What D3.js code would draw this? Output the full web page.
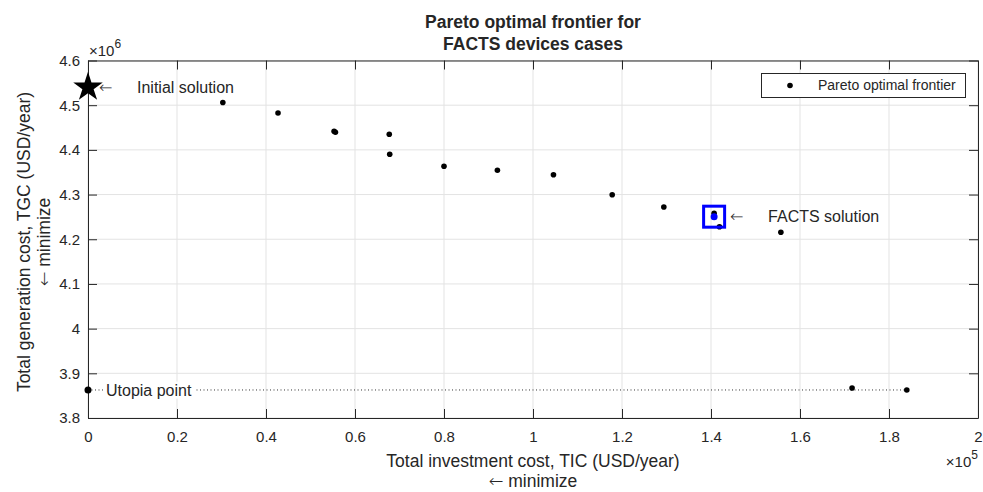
<!DOCTYPE html>
<html>
<head>
<meta charset="utf-8">
<script src="https://cdn.jsdelivr.net/npm/d3@7"></script>
<style>
	body { margin: 0; background: #fff; }
	text { font-family: "Liberation Sans", Arial, Helvetica, sans-serif; fill: #262626; }
	.arrow { font-family: "DejaVu Sans", sans-serif; font-weight: 200; }
</style>
</head>
<body>
<div id="pareto"></div>
<script>
// pareto frontier figure

// data (TIC in 1e5 USD/year, TGC in 1e6 USD/year)
const ticValues = [0.303, 0.427, 0.553, 0.556, 0.677, 0.678, 0.800, 0.920, 1.046, 1.178, 1.294, 1.407, 1.419, 1.557, 1.717, 1.840];
const tgcValues = [4.506, 4.4825, 4.4416, 4.4393, 4.4349, 4.3901, 4.3633, 4.3543, 4.3445, 4.2997, 4.2722, 4.2580, 4.2281, 4.2156, 3.8671, 3.8627];
const initialSolution = [0, 4.540];
const factsSolution = [1.407, 4.2505];
const utopiaPoint = [0, 3.8627];
const xTicks = [0, 0.2, 0.4, 0.6, 0.8, 1, 1.2, 1.4, 1.6, 1.8, 2];
const yTicks = [3.8, 3.9, 4, 4.1, 4.2, 4.3, 4.4, 4.5, 4.6];

const points = ticValues.map((v, i) => ({tic: v, tgc: tgcValues[i]}));

const w = 983, h = 492;
const margin = {top: 60.5, right: 5, bottom: 74, left: 88};
const axisColor = "#262626";
const gridColor = "#e3e3e3";

const x = d3.scaleLinear().domain([0, 2]).range([margin.left, w - margin.right]);
const y = d3.scaleLinear().domain([3.8, 4.6]).range([h - margin.bottom, margin.top]);

const svg = d3.select("#pareto")
	.append("svg")
	.attr("width", w)
	.attr("height", h);

// grid
svg.append("g")
	.selectAll("line")
	.data(xTicks)
	.join("line")
		.attr("x1", d => x(d)).attr("x2", d => x(d))
		.attr("y1", y(3.8)).attr("y2", y(4.6))
		.attr("stroke", gridColor);

svg.append("g")
	.selectAll("line")
	.data(yTicks)
	.join("line")
		.attr("x1", x(0)).attr("x2", x(2))
		.attr("y1", d => y(d)).attr("y2", d => y(d))
		.attr("stroke", gridColor);

// axes, ticks inside on all four sides
const tickStyle = g => {
	g.select(".domain").attr("stroke", axisColor);
	g.selectAll(".tick line").attr("stroke", axisColor);
	g.selectAll(".tick text")
		.style("font-family", "Liberation Sans, Arial, sans-serif")
		.style("font-size", "15px")
		.attr("fill", axisColor);
};

svg.append("g")
	.attr("transform", `translate(0,${y(3.8)})`)
	.call(d3.axisBottom(x).tickValues(xTicks).tickFormat(d3.format("~g")).tickSizeInner(-9).tickSizeOuter(0).tickPadding(13))
	.call(tickStyle);

svg.append("g")
	.attr("transform", `translate(0,${y(4.6)})`)
	.call(d3.axisTop(x).tickValues(xTicks).tickFormat("").tickSizeInner(-9).tickSizeOuter(0))
	.call(tickStyle);

svg.append("g")
	.attr("transform", `translate(${x(0)},0)`)
	.call(d3.axisLeft(y).tickValues(yTicks).tickFormat(d3.format("~g")).tickSizeInner(-9).tickSizeOuter(0).tickPadding(8))
	.call(tickStyle);

svg.append("g")
	.attr("transform", `translate(${x(2)},0)`)
	.call(d3.axisRight(y).tickValues(yTicks).tickFormat("").tickSizeInner(-9).tickSizeOuter(0))
	.call(tickStyle);

// exponent labels
const yExp = svg.append("text")
	.attr("x", x(0) + 1)
	.attr("y", 56)
	.style("font-size", "15px");
yExp.append("tspan").text("\u00d710");
yExp.append("tspan").attr("dy", -8).style("font-size", "12px").text("6");

const xExp = svg.append("text")
	.attr("x", x(2))
	.attr("y", 467)
	.attr("text-anchor", "end")
	.style("font-size", "15px");
xExp.append("tspan").text("\u00d710");
xExp.append("tspan").attr("dy", -8).style("font-size", "12px").text("5");

// utopia dotted line
svg.append("line")
	.attr("x1", x(utopiaPoint[0]))
	.attr("x2", x(ticValues[ticValues.length - 1]))
	.attr("y1", y(utopiaPoint[1]))
	.attr("y2", y(utopiaPoint[1]))
	.attr("stroke", "#333")
	.attr("stroke-width", 1)
	.attr("stroke-dasharray", "1,2.5");

// pareto points
svg.append("g")
	.selectAll("circle")
	.data(points)
	.join("circle")
		.attr("cx", d => x(d.tic))
		.attr("cy", d => y(d.tgc))
		.attr("r", 2.8)
		.attr("fill", "black");

// initial solution star
svg.append("path")
	.attr("d", d3.symbol(d3.symbolStar, 270)())
	.attr("transform", `translate(${x(initialSolution[0])},${y(initialSolution[1])})`)
	.attr("fill", "black");

// facts solution
svg.append("rect")
	.attr("x", x(factsSolution[0]) - 10.5)
	.attr("y", y(factsSolution[1]) - 10.5)
	.attr("width", 21)
	.attr("height", 21)
	.attr("fill", "none")
	.attr("stroke", "#0000ff")
	.attr("stroke-width", 3);

svg.append("circle")
	.attr("cx", x(factsSolution[0]))
	.attr("cy", y(factsSolution[1]))
	.attr("r", 3.5)
	.attr("fill", "#0000ff");

// utopia point
svg.append("circle")
	.attr("cx", x(utopiaPoint[0]))
	.attr("cy", y(utopiaPoint[1]))
	.attr("r", 3.5)
	.attr("fill", "black");

// annotations
const note = (px, py, label, cls) => svg.append("text")
	.attr("class", cls || null)
	.attr("x", px)
	.attr("y", py)
	.attr("dy", "0.35em")
	.style("font-size", "16px")
	.attr("fill", "black")
	.text(label);

note(x(initialSolution[0]) + 11, y(initialSolution[1]), "\u2190", "arrow");
note(x(initialSolution[0]) + 49, y(initialSolution[1]), "Initial solution");
note(x(factsSolution[0]) + 16, y(factsSolution[1]), "\u2190", "arrow");
note(x(factsSolution[0]) + 54, y(factsSolution[1]), "FACTS solution");

const utopiaText = note(x(utopiaPoint[0]) + 18, y(utopiaPoint[1]), "Utopia point");
const bb = utopiaText.node().getBBox();
svg.insert("rect", () => utopiaText.node())
	.attr("x", bb.x - 3)
	.attr("y", bb.y)
	.attr("width", bb.width + 6)
	.attr("height", bb.height)
	.attr("fill", "white");

// legend
svg.append("rect")
	.attr("x", 761.5).attr("y", 73.5)
	.attr("width", 204).attr("height", 24)
	.attr("fill", "white")
	.attr("stroke", axisColor);
svg.append("circle")
	.attr("cx", 790).attr("cy", 85.5).attr("r", 2.8).attr("fill", "black");
svg.append("text")
	.attr("x", 818).attr("y", 85.5).attr("dy", "0.35em")
	.style("font-size", "14px")
	.attr("fill", "black")
	.text("Pareto optimal frontier");

// title
const title = svg.append("text")
	.attr("x", (x(0) + x(2)) / 2)
	.attr("text-anchor", "middle")
	.style("font-size", "17.5px")
	.style("font-weight", "bold")
	.attr("fill", "black");
title.append("tspan").attr("x", (x(0) + x(2)) / 2).attr("y", 28).text("Pareto optimal frontier for");
title.append("tspan").attr("x", (x(0) + x(2)) / 2).attr("y", 50).text("FACTS devices cases");

// axis titles
const xLab = svg.append("text")
	.attr("text-anchor", "middle")
	.style("font-size", "17.5px");
xLab.append("tspan").attr("x", (x(0) + x(2)) / 2).attr("y", 467).text("Total investment cost, TIC (USD/year)");
const xMin = xLab.append("tspan").attr("x", (x(0) + x(2)) / 2).attr("y", 487);
xMin.append("tspan").attr("class", "arrow").text("\u2190");
xMin.append("tspan").text(" minimize");

const yMid = 242;
const yLab = svg.append("text")
	.attr("transform", `translate(0,${yMid}) rotate(-90)`)
	.attr("text-anchor", "middle")
	.style("font-size", "17.5px");
yLab.append("tspan").attr("x", 0).attr("y", 30).text("Total generation cost, TGC (USD/year)");
const yMin = yLab.append("tspan").attr("x", 0).attr("y", 50);
yMin.append("tspan").attr("class", "arrow").text("\u2190");
yMin.append("tspan").text(" minimize");
</script>
</body>
</html>
